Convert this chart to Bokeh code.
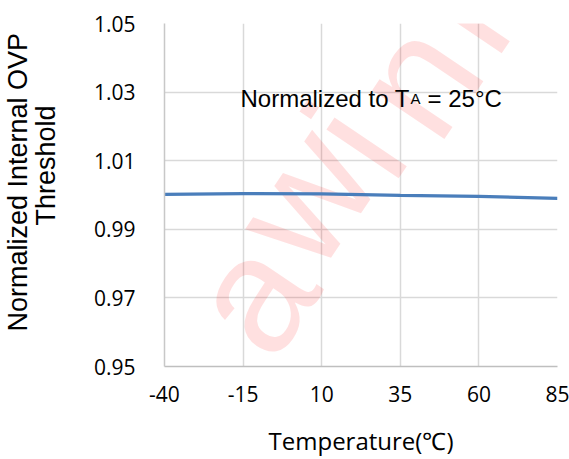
from bokeh.plotting import figure
from bokeh.models import Range1d, FixedTicker, Label, NumeralTickFormatter, Title
from bokeh.embed import file_html
from bokeh.resources import INLINE

# ---- data ----
temps = [-40, -15, 10, 35, 60, 85]
ovp_norm = [1.0002, 1.0004, 1.0003, 0.9999, 0.9996, 0.9990]
x_ticks = [-40, -15, 10, 35, 60, 85]
x_tick_labels = ["-40", "-15", "10", "35", "60", "85"]
y_ticks = [0.95, 0.97, 0.99, 1.01, 1.03, 1.05]

W, H = 569, 459
FL, FR, FT, FB = 164, 557, 23, 367   # frame edges in page pixels

p = figure(width=W, height=H, x_range=Range1d(-40, 85), y_range=Range1d(0.95, 1.05),
           output_backend="svg", toolbar_location=None,
           min_border_left=FL, min_border_right=W - FR, min_border_top=FT, min_border_bottom=H - FB)
p.outline_line_color = None
p.background_fill_color = "white"

# watermark letters (screen units are frame-relative); page positions of each letter anchor
wm_letters = ["a", "w", "i", "n", "i", "c"]
wm_pos = [(251, 296), (303, 197), (355, 141), (416, 79), (458, 16), (495, -39)]
for ch, (px, py) in zip(wm_letters, wm_pos):
    p.add_layout(Label(x=px - FL, y=FB - py, x_units="screen", y_units="screen", text=ch,
                       angle=56, angle_units="deg", text_align="center", text_baseline="alphabetic",
                       text_font="Liberation Sans", text_font_size="165px",
                       text_color="#ff0000", text_alpha=0.12, level="underlay"))

for ax in (p.xaxis, p.yaxis):
    ax.major_tick_out = 0
    ax.major_tick_in = 0
    ax.minor_tick_out = 0
    ax.minor_tick_in = 0
    ax.major_label_text_font = "Open Sans"
    ax.major_label_text_font_size = "21px"
    ax.major_label_text_color = "#000000"

p.xaxis.ticker = FixedTicker(ticks=x_ticks)
p.xaxis.major_label_overrides = {t: s for t, s in zip(x_ticks, x_tick_labels)}
p.yaxis.ticker = FixedTicker(ticks=y_ticks)
p.yaxis.formatter = NumeralTickFormatter(format="0.00")
p.xaxis.major_label_standoff = 19
p.yaxis.major_label_standoff = 29
p.xaxis.axis_line_color = "#bfbfbf"
p.xaxis.axis_line_width = 1.5
p.yaxis.axis_line_color = "#c8c8c8"
p.yaxis.axis_line_width = 1.5

p.xaxis.axis_label = "Temperature(℃)"
p.xaxis.axis_label_text_font = "Open Sans"
p.xaxis.axis_label_text_font_size = "24px"
p.xaxis.axis_label_text_font_style = "normal"
p.xaxis.axis_label_text_color = "#000000"
p.xaxis.axis_label_standoff = 19

# spacer between the tick labels and the two-line y title
p.yaxis.axis_label = "\u00a0"
p.yaxis.axis_label_text_font_size = "1px"
p.yaxis.axis_label_standoff = 26

p.xgrid.ticker = FixedTicker(ticks=x_ticks)
p.ygrid.ticker = FixedTicker(ticks=y_ticks)
for g in (p.xgrid, p.ygrid):
    g.grid_line_color = "#d9d9d9"
    g.grid_line_width = 1.5

p.line(temps, ovp_norm, line_color="#4a7ebb", line_width=3.2)

# annotation
ann_font = "Liberation Sans"
base = FB - 99
p.add_layout(Label(x=240 - FL, y=base, x_units="screen", y_units="screen", text="Normalized to T",
                   text_font=ann_font, text_font_size="24px", text_color="#000000",
                   text_baseline="alphabetic"))
p.add_layout(Label(x=410 - FL, y=base, x_units="screen", y_units="screen", text="A",
                   text_font=ann_font, text_font_size="15px", text_color="#000000",
                   text_baseline="alphabetic"))
p.add_layout(Label(x=427 - FL, y=base, x_units="screen", y_units="screen", text="= 25°C",
                   text_font=ann_font, text_font_size="24px", text_color="#000000",
                   text_baseline="alphabetic"))

# y title: two lines, as left-side titles (first one added sits nearest the axis)
t2 = Title(text="Threshold", align="left", offset=FB - 226, vertical_align="bottom",
           text_font="Liberation Sans", text_font_size="27px", text_font_style="normal",
           text_color="#000000", standoff=0)
t1 = Title(text="Normalized Internal OVP", align="left", offset=FB - 332, vertical_align="bottom",
           text_font="Liberation Sans", text_font_size="27px", text_font_style="normal",
           text_color="#000000", standoff=-8)
p.add_layout(t2, "left")
p.add_layout(t1, "left")

open("out.html", "w").write(file_html(p, INLINE))
